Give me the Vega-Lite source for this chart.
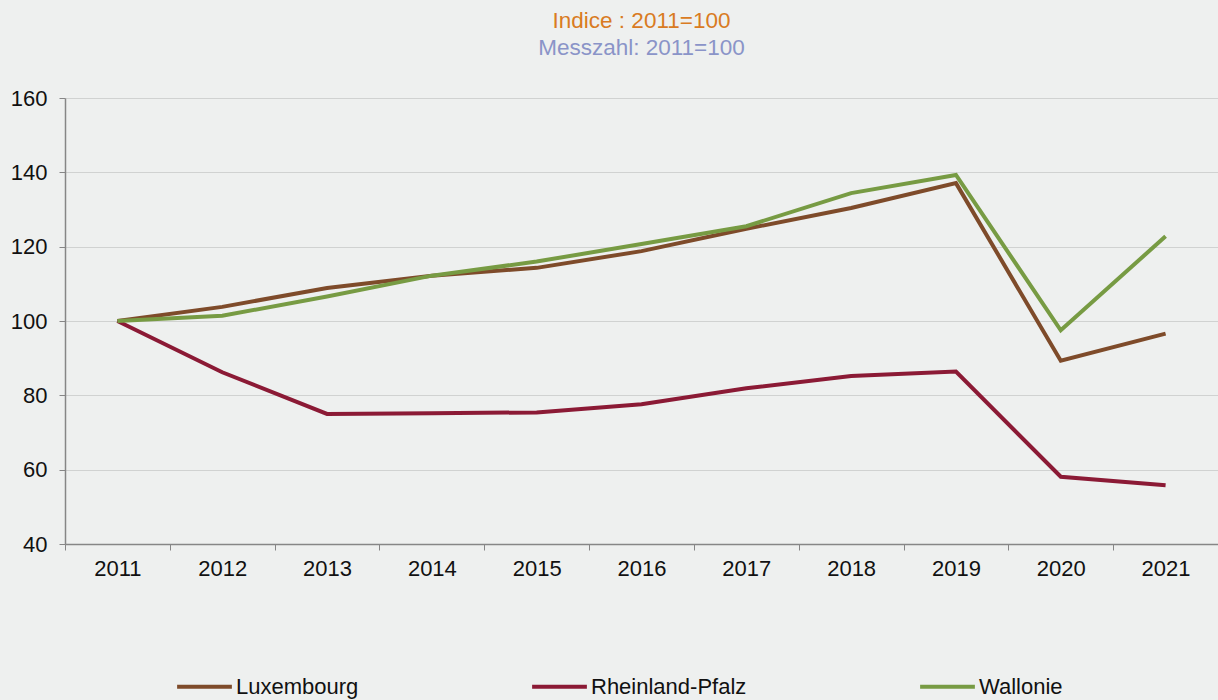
{
  "$schema": "https://vega.github.io/schema/vega-lite/v6.json",
  "width": 1153,
  "height": 446,
  "autosize": {"type": "none"},
  "padding": {"left": 65, "top": 98, "right": 0, "bottom": 156},
  "background": "#EEF0EF",
  "config": {
    "view": {"stroke": null},
    "font": "Liberation Sans"
  },
  "title": {
    "text": "Indice : 2011=100",
    "subtitle": "Messzahl: 2011=100",
    "anchor": "middle",
    "frame": "group",
    "font": "Liberation Sans",
    "subtitleFont": "Liberation Sans",
    "fontSize": 22.5,
    "fontWeight": "normal",
    "subtitleFontSize": 22.5,
    "color": "#D97B22",
    "subtitleColor": "#8A94C8",
    "subtitlePadding": 4,
    "offset": 28
  },
  "data": {
    "values": [
      {"year": "2011", "region": "Luxembourg", "value": 100},
      {"year": "2012", "region": "Luxembourg", "value": 103.8},
      {"year": "2013", "region": "Luxembourg", "value": 108.9},
      {"year": "2014", "region": "Luxembourg", "value": 112.2},
      {"year": "2015", "region": "Luxembourg", "value": 114.3},
      {"year": "2016", "region": "Luxembourg", "value": 118.8},
      {"year": "2017", "region": "Luxembourg", "value": 124.8},
      {"year": "2018", "region": "Luxembourg", "value": 130.4},
      {"year": "2019", "region": "Luxembourg", "value": 137.1},
      {"year": "2020", "region": "Luxembourg", "value": 89.3},
      {"year": "2021", "region": "Luxembourg", "value": 96.6},
      {"year": "2011", "region": "Rheinland-Pfalz", "value": 100},
      {"year": "2012", "region": "Rheinland-Pfalz", "value": 86.2},
      {"year": "2013", "region": "Rheinland-Pfalz", "value": 75.0},
      {"year": "2014", "region": "Rheinland-Pfalz", "value": 75.2},
      {"year": "2015", "region": "Rheinland-Pfalz", "value": 75.4},
      {"year": "2016", "region": "Rheinland-Pfalz", "value": 77.6},
      {"year": "2017", "region": "Rheinland-Pfalz", "value": 81.9},
      {"year": "2018", "region": "Rheinland-Pfalz", "value": 85.2},
      {"year": "2019", "region": "Rheinland-Pfalz", "value": 86.4},
      {"year": "2020", "region": "Rheinland-Pfalz", "value": 58.1},
      {"year": "2021", "region": "Rheinland-Pfalz", "value": 55.8},
      {"year": "2011", "region": "Wallonie", "value": 100},
      {"year": "2012", "region": "Wallonie", "value": 101.4},
      {"year": "2013", "region": "Wallonie", "value": 106.6},
      {"year": "2014", "region": "Wallonie", "value": 112.2},
      {"year": "2015", "region": "Wallonie", "value": 116.0},
      {"year": "2016", "region": "Wallonie", "value": 120.7},
      {"year": "2017", "region": "Wallonie", "value": 125.5},
      {"year": "2018", "region": "Wallonie", "value": 134.4},
      {"year": "2019", "region": "Wallonie", "value": 139.3},
      {"year": "2020", "region": "Wallonie", "value": 97.5},
      {"year": "2021", "region": "Wallonie", "value": 122.8}
    ]
  },
  "mark": {"type": "line", "strokeWidth": 4},
  "encoding": {
    "x": {
      "field": "year",
      "type": "ordinal",
      "bandPosition": 0.5,
      "scale": {"type": "band", "paddingInner": 0, "paddingOuter": 0},
      "axis": {
        "title": null,
        "labelAngle": 0,
        "labelFont": "Liberation Sans",
        "labelFontSize": 22,
        "labelColor": "#111111",
        "labelPadding": 8,
        "tickBand": "extent",
        "tickSize": 6,
        "tickColor": "#868686",
        "domainColor": "#868686",
        "domainWidth": 1.5,
        "grid": false
      }
    },
    "y": {
      "field": "value",
      "type": "quantitative",
      "scale": {"domain": [40, 160], "nice": false, "zero": false},
      "axis": {
        "title": null,
        "values": [40, 60, 80, 100, 120, 140, 160],
        "labelFont": "Liberation Sans",
        "labelFontSize": 22,
        "labelColor": "#111111",
        "labelPadding": 12,
        "tickSize": 6,
        "tickColor": "#868686",
        "domainColor": "#868686",
        "domainWidth": 1.5,
        "gridColor": "#D0D2D1",
        "gridWidth": 1
      }
    },
    "color": {
      "field": "region",
      "type": "nominal",
      "scale": {
        "domain": ["Luxembourg", "Rheinland-Pfalz", "Wallonie"],
        "range": ["#7E4B2A", "#8B1A35", "#779B43"]
      },
      "legend": {
        "title": null,
        "orient": "none",
        "direction": "horizontal",
        "columns": 3,
        "legendX": 110,
        "legendY": 559,
        "symbolType": "stroke",
        "symbolSize": 3000,
        "symbolStrokeWidth": 4,
        "labelFont": "Liberation Sans",
        "labelFontSize": 22,
        "labelColor": "#111111",
        "labelOffset": 2,
        "columnPadding": 165,
        "labelLimit": 300
      }
    }
  }
}
